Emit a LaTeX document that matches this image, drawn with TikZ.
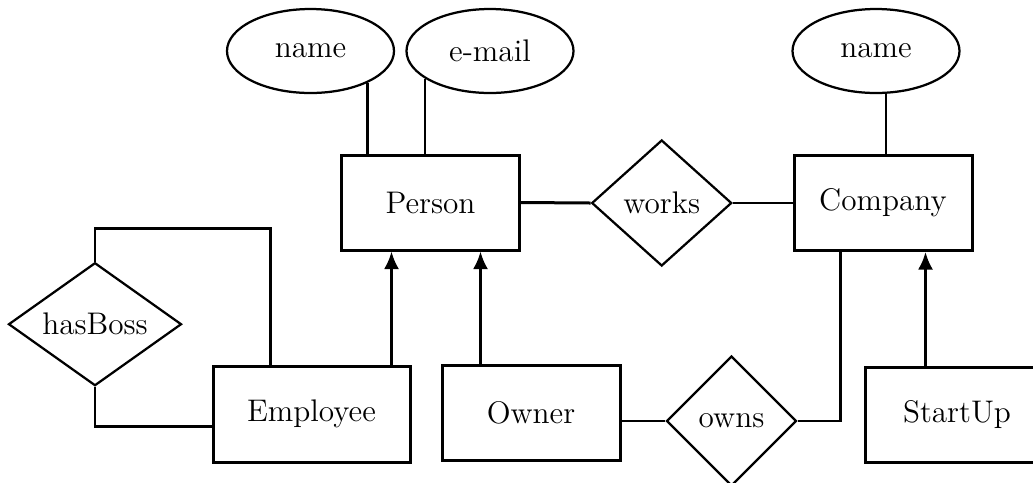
\documentclass[tikz,border=0pt]{standalone}
\usetikzlibrary{shapes.geometric,arrows.meta,calc}
\begin{document}
\begin{tikzpicture}[x=0.4pt,y=-0.4pt,
  font=\fontsize{12.5}{15}\selectfont,
  entity/.style={draw,line width=1.2pt,inner sep=0pt,minimum height=38pt},
  attribute/.style={ellipse,draw,line width=0.9pt,inner sep=0pt,minimum width=66.8pt,minimum height=33.6pt},
  rel/.style={diamond,draw,line width=0.9pt,inner sep=0pt},
  conn/.style={line width=1.1pt},
  arr/.style={line width=1.1pt,-{Latex[length=7pt,width=6pt]}}]
\useasboundingbox (0,0) rectangle (1033,482);
% entities
\node[entity,minimum width=71.2pt] (Person) at (430.5,202.5) {Person};
\node[entity,minimum width=71.2pt] (Company) at (883,203) {Company};
\node[entity,minimum width=78.8pt,minimum height=38.2pt] (Employee) at (311.5,414.3) {Employee};
\node[entity,minimum width=71.2pt] (Owner) at (531,413.2) {Owner};
\node[entity,minimum width=73.6pt] (StartUp) at (957,414.7) {StartUp};
% attributes
\node[attribute] (nameP) at (310.5,51) {name};
\node[attribute] (email) at (490,51) {e-mail};
\node[attribute] (nameC) at (876,51) {name};
% relationships
\node[rel,aspect=1.11,minimum width=56pt,minimum height=50.4pt] (works) at (661.7,203) {works};
\node[rel,aspect=1.4,minimum width=69.2pt,minimum height=49.2pt] (hasBoss) at (95,324.2) {hasBoss};
\node[rel,aspect=1,minimum width=52pt,minimum height=52pt] (owns) at (731.5,421) {owns};
% attribute links
\draw[conn] (nameP.-29) -- (nameP.-29 |- Person.north);
\draw[conn] (email.203) -- (email.203 |- Person.north);
\draw[conn] (nameC.-77) -- (nameC.-77 |- Company.north);
% works
\draw[line width=1.2pt] (Person.east) -- (works.west);
\draw[line width=0.9pt] (works.east) -- (Company.west);
% isa arrows
\coordinate (eTop) at ($(Employee.north east)+(-20,0)$);
\coordinate (oTop) at ($(Owner.north west)+(40,0)$);
\coordinate (sTop) at ($(StartUp.north west)+(62,0)$);
\draw[arr] (eTop) -- (eTop |- Person.south);
\draw[arr] (oTop) -- (oTop |- Person.south);
\draw[arr] (sTop) -- (sTop |- Company.south);
% hasBoss
\coordinate (hbTop) at (95,228.3);
\coordinate (eLeftTop) at ($(Employee.north west)+(59,0)$);
\draw[conn] (eLeftTop) |- (hbTop) -- (hasBoss.north);
\draw[conn] (hasBoss.south) |- ($(Employee.west)+(0,12.4)$);
% owns
\draw[conn] (owns.west) -- (owns.west -| Owner.east);
\draw[conn] (owns.east) -| ($(Company.south west)+(48,0)$);
\end{tikzpicture}
\end{document}
